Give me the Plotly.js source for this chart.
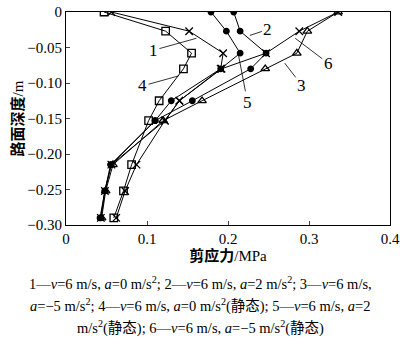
<!DOCTYPE html>
<html><head><meta charset="utf-8">
<script src="https://cdn.plot.ly/plotly-3.0.1.min.js"></script>
<style>html,body{margin:0;padding:0;background:#fff}#chart{width:400px;height:344px}</style>
</head><body><div id="chart"></div>
<script>
// depth (m)
const depth = [0, -0.027, -0.058, -0.080, -0.125, -0.153, -0.215, -0.252, -0.290];
// shear stress (MPa) for each curve
const s1 = [0.056, 0.152, 0.194, 0.191, 0.140, 0.122, 0.087, 0.073, 0.062];
const s2 = [0.207, 0.215, 0.247, 0.228, 0.156, 0.110, 0.056, 0.048, 0.043];
const s3 = [0.336, 0.298, 0.285, 0.246, 0.168, 0.120, 0.058, 0.049, 0.044];
const s4 = [0.047, 0.123, 0.155, 0.145, 0.115, 0.102, 0.081, 0.071, 0.059];
const s5 = [0.179, 0.198, 0.215, 0.191, 0.130, 0.110, 0.055, 0.048, 0.042];
const s6 = [0.336, 0.288, 0.247, 0.192, 0.140, 0.122, 0.056, 0.048, 0.043];
const curveNames = ['1', '2', '3', '4', '5', '6'];
const seriesVals = [s1, s2, s3, s4, s5, s6];
const symbols = ['x-thin-open', 'circle', 'triangle-up-open', 'square-open', 'circle', 'x-thin-open'];
// curve label text positions & leader targets
const labelX = [0.161, 0.227, 0.270, 0.139, 0.213, 0.283];
const labelY = [-0.037, -0.033, -0.072, -0.090, -0.061, -0.037];
const labelAx = [-43, 18, 17, -36, 9, 33];
const labelAy = [12, -6, 22, 10, 47, 25];
const xTicks = [0, 0.1, 0.2, 0.3, 0.4];
const xTickText = ['0', '0.1', '0.2', '0.3', '0.4'];
const yTicks = [0, -0.05, -0.10, -0.15, -0.20, -0.25, -0.30];
const yTickText = ['0', '\u22120.05', '\u22120.10', '\u22120.15', '\u22120.20', '\u22120.25', '\u22120.30'];
const captionLines = [
  '1\u2014<i>v</i>=6 m/s, <i>a</i>=0 m/s<sup>2</sup>; 2\u2014<i>v</i>=6 m/s, <i>a</i>=2 m/s<sup>2</sup>; 3\u2014<i>v</i>=6 m/s,',
  '<i>a</i>=\u22125 m/s<sup>2</sup>; 4\u2014<i>v</i>=6 m/s, <i>a</i>=0 m/s<sup>2</sup>(静态); 5\u2014<i>v</i>=6 m/s, <i>a</i>=2',
  'm/s<sup>2</sup>(静态); 6\u2014<i>v</i>=6 m/s, <i>a</i>=\u22125 m/s<sup>2</sup>(静态)'
];
const captionY = [-0.272, -0.376, -0.479];

const FONT = 'Liberation Serif, "Noto Sans CJK SC", serif';

const traces = seriesVals.map((v, i) => ({
  x: v, y: depth, type: 'scatter', mode: 'lines+markers', name: curveNames[i],
  line: {color: '#000', width: 1},
  marker: {symbol: symbols[i], size: symbols[i] === 'circle' ? 5.5 : 7.5, color: '#000',
           line: {color: '#000', width: 1.3}},
  showlegend: false
}));

const annotations = [];
curveNames.forEach((n, i) => {
  annotations.push({x: labelX[i], y: labelY[i], xref: 'x', yref: 'y', text: n,
    showarrow: true, arrowhead: 0, arrowwidth: 0.8, arrowcolor: '#000',
    ax: labelAx[i], ay: labelAy[i], font: {family: FONT, size: 17, color: '#000'}});
});
captionLines.forEach((t, i) => {
  annotations.push({x: 0.4136, y: captionY[i], xref: 'paper', yref: 'paper', text: t,
    showarrow: false, xanchor: 'center', yanchor: 'middle',
    font: {family: FONT, size: 14.5, color: '#000'}});
});

const layout = {
  width: 400, height: 344,
  margin: {l: 66, r: 10, t: 12, b: 119},
  paper_bgcolor: '#fff', plot_bgcolor: '#fff',
  font: {family: FONT, size: 15, color: '#000'},
  xaxis: {range: [0, 0.4], tickvals: xTicks, ticktext: xTickText, ticks: 'inside', ticklen: 4,
    showline: true, mirror: true, linecolor: '#000', linewidth: 1, showgrid: false, zeroline: false,
    tickfont: {family: FONT, size: 15},
    title: {text: '<b>剪应力</b>/MPa', font: {family: FONT, size: 15}, standoff: 0}},
  yaxis: {range: [-0.30, 0], tickvals: yTicks, ticktext: yTickText, ticks: 'inside', ticklen: 4,
    showline: true, mirror: true, linecolor: '#000', linewidth: 1, showgrid: false, zeroline: false,
    tickfont: {family: FONT, size: 15},
    title: {text: '<b>路面深度</b>/m', font: {family: FONT, size: 15}, standoff: 0}},
  annotations: annotations
};
Plotly.newPlot('chart', traces, layout, {staticPlot: true, displayModeBar: false});
</script></body></html>
